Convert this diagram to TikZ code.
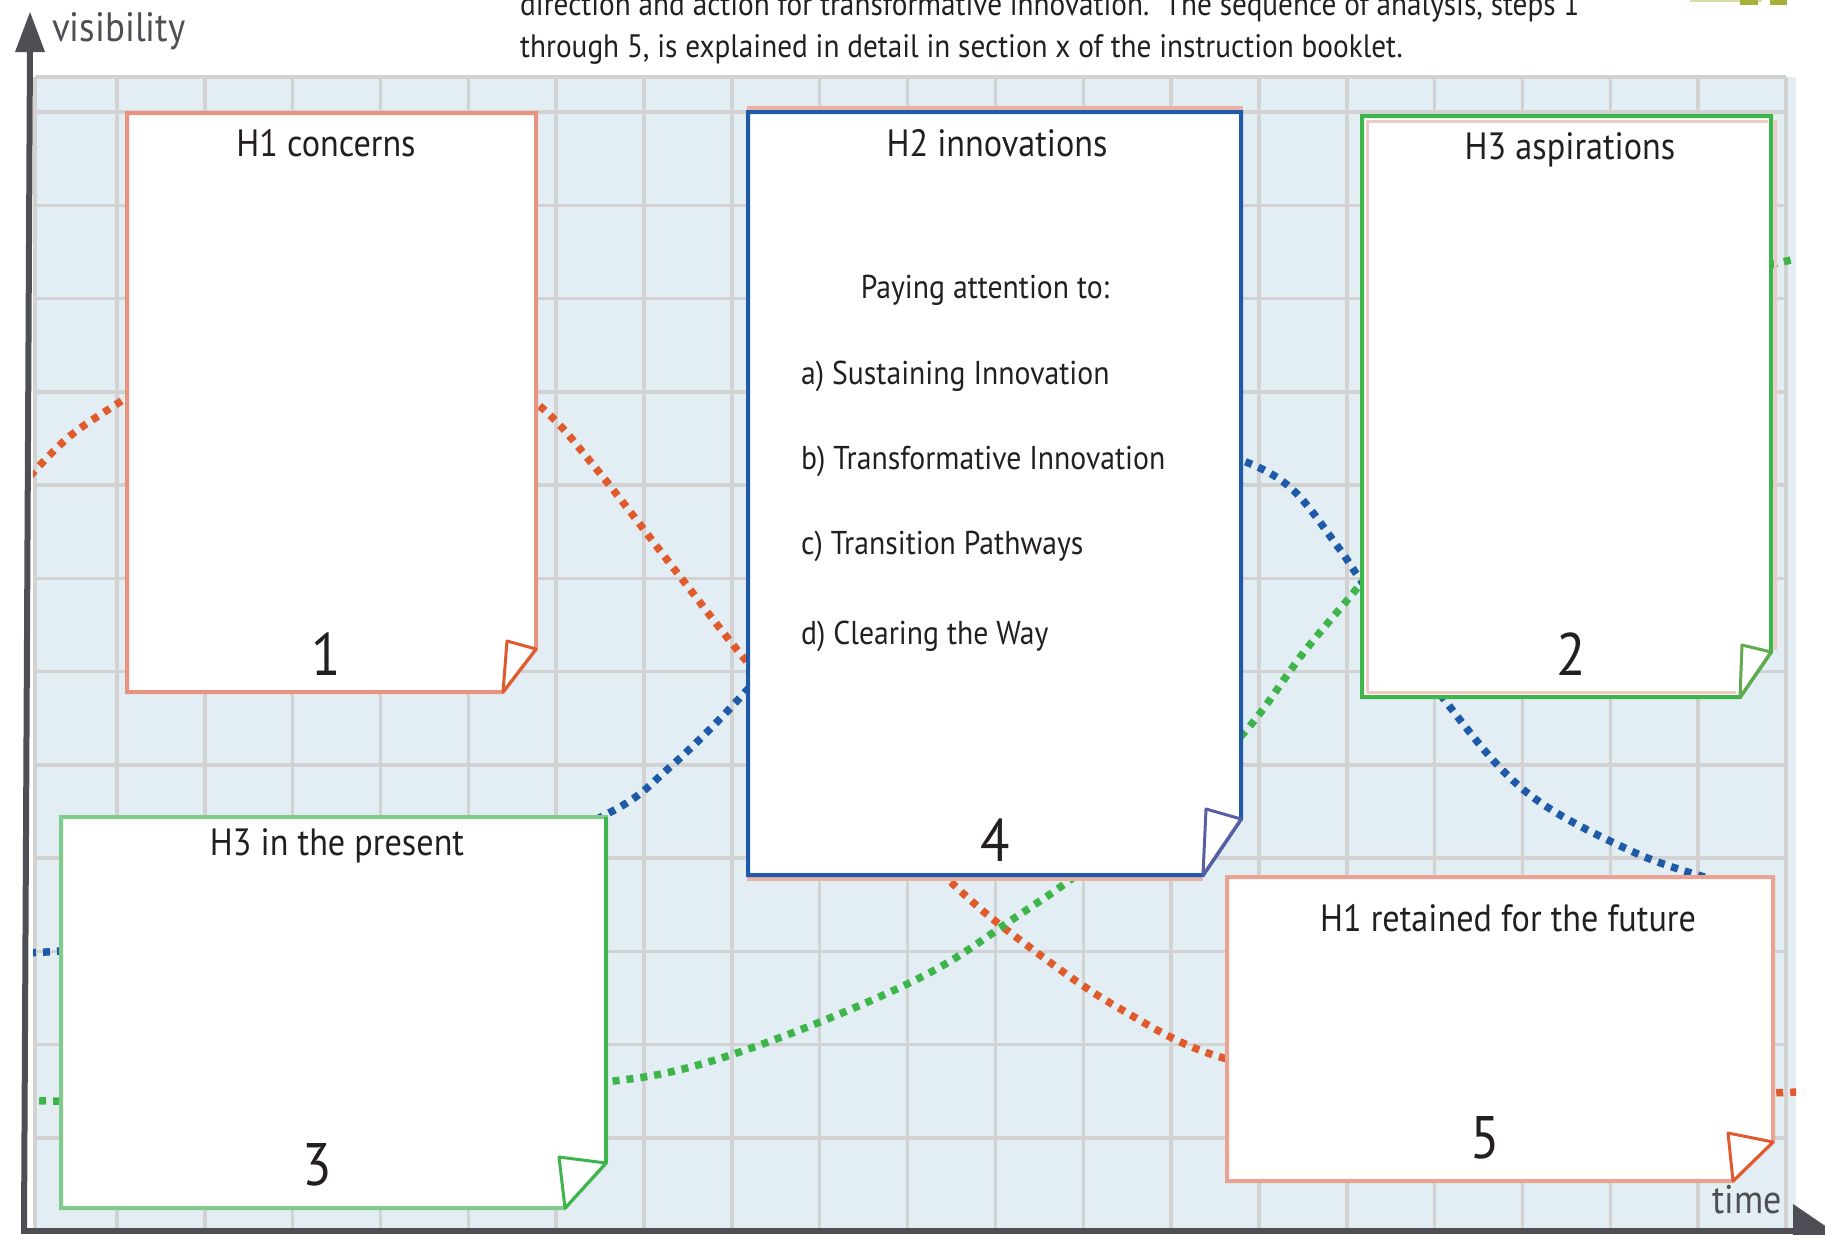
\documentclass[tikz,border=0pt]{standalone}
\usepackage{fontspec}
\setmainfont{PT Sans}[FakeStretch=0.9]
\definecolor{gridbg}{HTML}{E2EEF4}
\definecolor{gridln}{HTML}{D2D2D2}
\definecolor{axisc}{HTML}{4D4F54}
\definecolor{h1dot}{HTML}{E05A2B}
\definecolor{h1box}{HTML}{E8937F}
\definecolor{h5box}{HTML}{EAA292}
\definecolor{h1flap}{HTML}{E05A30}
\definecolor{h2c}{HTML}{1E5AA8}
\definecolor{h2flap}{HTML}{5A5EA2}
\definecolor{h3c}{HTML}{3DB54A}
\definecolor{h3light}{HTML}{80CB8C}
\definecolor{h3flap}{HTML}{62AA50}
\definecolor{ghost}{HTML}{E9B2A5}
\definecolor{olivec}{HTML}{A8B03C}
\definecolor{txt}{HTML}{231F20}
\begin{document}
\begin{tikzpicture}[x=1pt,y=-1pt,
  gridline/.style={gridln, line width=3.5pt},
  boxline/.style={line width=4pt, fill=white, line join=miter},
  flapline/.style={line width=3pt, fill=white, line join=round},
  dotcurve/.style={line width=7.5pt, dash pattern=on 7pt off 7pt},
  boxtitle/.style={font=\fontsize{38}{44}\selectfont, text=txt, inner sep=0pt, anchor=base},
  boxnum/.style={font=\fontsize{60}{66}\selectfont, text=txt, inner sep=0pt, anchor=base},
  itemtext/.style={font=\fontsize{33}{38}\selectfont, text=txt, inner sep=0pt, anchor=base west},
  headtext/.style={font=\fontsize{32.5}{36}\selectfont, text=txt, inner sep=0pt, anchor=base west},
  axislabel/.style={font=\fontsize{41}{44}\selectfont, text=axisc, inner sep=0pt, anchor=base west},
]
\useasboundingbox (0,0) rectangle (1825,1234);
\clip (0,0) rectangle (1825,1234);

% header text (partly cut off at the top, as in the original)
\node[headtext] (head1) at (520,15) {direction and action for transformative innovation.\ \ The sequence of analysis, steps 1};
\node[headtext] (head2) at (520,57) {through 5, is explained in detail in section x of the instruction booklet.};

% small olive shape cut off at top right
\fill[olivec!45] (1690,-4) rectangle (1762,2);
\fill[olivec] (1740,-4) rectangle (1758,5);
\fill[olivec] (1770,-4) rectangle (1787,5);

% grid
\fill[gridbg] (33,77) rectangle (1796,1230);
\foreach \k in {0,...,19} \draw[gridline] ({117+87.84*\k},77) -- ({117+87.84*\k},1230);
\foreach \k in {0,...,11} \draw[gridline] (35,{112+93.27*\k}) -- (1786,{112+93.27*\k});
\draw[gridline] (35,77) -- (1786,77);
\draw[gridline] (35,77) -- (35,1230);

% dotted curves
\begin{scope}
\clip (33,77) rectangle (1796,1228);
\draw[dotcurve, h1dot] plot[smooth, tension=0.6] coordinates {(30,476) (70,436) (126,398) (230,330) (330,310) (430,330) (535,402) (594,466) (675,570) (748,663) (850,780) (954,885) (1024,943) (1117,1007) (1227,1059) (1400,1085) (1600,1095) (1800,1092)};
\draw[dotcurve, h2c] plot[smooth, tension=0.6] coordinates {(30,952) (60,951) (250,935) (450,880) (605,815) (669,768) (748,689) (850,570) (950,480) (1080,440) (1180,445) (1241,460) (1292,489) (1338,547) (1362,582) (1443,698) (1525,791) (1629,850) (1711,879) (1745,886)};
\draw[dotcurve, h3c] plot[smooth, tension=0.6] coordinates {(30,1100) (60,1101) (300,1100) (450,1093) (605,1082) (698,1065) (815,1024) (931,972) (1013,919) (1082,871) (1160,805) (1241,736) (1304,652) (1362,582) (1450,470) (1560,360) (1680,290) (1771,265) (1800,258)};
\end{scope}

% Box 1: H1 concerns
\draw[draw=h1box, boxline] (127,113) -- (536,113) -- (536,649) -- (503,692) -- (127,692) -- cycle;
\draw[draw=h1flap, flapline] (507,641) -- (536,649) -- (503,692) -- cycle;
\node[boxtitle] (b1title) at (326,156) {H1 concerns};
\node[boxnum] (b1num) at (326,675) {1};

% Box 4: H2 innovations
\draw[ghost, line width=4pt] (747,108) -- (1243,108);
\draw[ghost, line width=4pt] (747,879) -- (1203,879);
\draw[draw=h2c, boxline] (748,112) -- (1241,112) -- (1241,819) -- (1203,875) -- (748,875) -- cycle;
\draw[draw=h2flap, flapline] (1206,809) -- (1241,819) -- (1203,875) -- cycle;
\node[boxtitle] (b4title) at (997,156) {H2 innovations};
\node[boxtitle, font=\fontsize{33}{38}\selectfont] (pay) at (985,298) {Paying attention to:};
\node[itemtext] (ia) at (801,384) {a) Sustaining Innovation};
\node[itemtext] (ib) at (801,469) {b) Transformative Innovation};
\node[itemtext] (ic) at (801,554) {c) Transition Pathways};
\node[itemtext] (id) at (801,644) {d) Clearing the Way};
\node[boxnum] (b4num) at (995,861) {4};

% Box 2: H3 aspirations
\draw[draw=h3c, boxline] (1362,116) -- (1771,116) -- (1771,652) -- (1740,697) -- (1362,697) -- cycle;
\draw[ghost!70, line width=3pt] (1367,692) -- (1367,121) -- (1768,121);
\draw[ghost!70, line width=3pt] (1367,692) -- (1736,692);
\draw[ghost!70, line width=3pt] (1775,120) -- (1775,650);
\draw[draw=h3flap, flapline] (1742,645) -- (1771,652) -- (1740,697) -- cycle;
\node[boxtitle] (b2title) at (1570,159) {H3 aspirations};
\node[boxnum] (b2num) at (1571,675) {2};

% Box 3: H3 in the present
\draw[draw=h3light, boxline] (61,817) -- (606,817) -- (606,1163) -- (565,1208) -- (61,1208) -- cycle;
\draw[line width=3.5pt, h3c] (606,817) -- (606,1163);
\draw[draw=h3c, flapline] (559,1157) -- (606,1163) -- (565,1208) -- cycle;
\node[boxtitle] (b3title) at (337,855) {H3 in the present};
\node[boxnum] (b3num) at (317,1185) {3};

% Box 5: H1 retained for the future
\draw[draw=h5box, boxline] (1227,877) -- (1773,877) -- (1773,1142) -- (1733,1181) -- (1227,1181) -- cycle;
\draw[draw=h1flap, flapline] (1728,1133) -- (1773,1142) -- (1733,1181) -- cycle;
\node[boxtitle] (b5title) at (1508,931) {H1 retained for the future};
\node[boxnum] (b5num) at (1485,1158) {5};

% axes
\coordinate (origin) at (24,1231);
\coordinate (ytop) at (30,46);
\coordinate (xend) at (1800,1231);
\draw[axisc, line width=6pt] (origin) -- (ytop);
\fill[axisc] (30,12) -- (45,52) -- (15,52) -- cycle;
\draw[axisc, line width=6pt] (21,1231) -- (xend);
\fill[axisc] (1793,1204) -- (1840,1236) -- (1793,1266) -- cycle;
\node[axislabel] (ylab) at (52,41) {visibility};
\node[axislabel, font=\fontsize{40}{44}\selectfont] (xlab) at (1712,1213) {time};
\end{tikzpicture}
\end{document}
